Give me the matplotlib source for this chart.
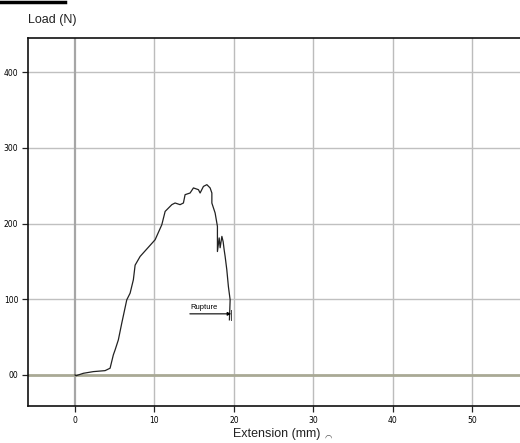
import matplotlib
matplotlib.use("Agg")
import matplotlib.pyplot as plt
from matplotlib.lines import Line2D

# Data
extension_mm = [0.0, 0.13, 1.05, 2.3, 3.78, 4.41, 4.82, 5.04, 5.45, 5.88, 6.51, 6.93, 7.34,
                7.56, 8.19, 10.08, 10.92, 11.34, 12.18, 12.59, 13.22, 13.64, 13.85, 14.48,
                14.9, 15.53, 15.74, 16.16, 16.59, 17.0, 17.22, 17.22, 17.63, 17.92, 17.92,
                18.14, 18.26, 18.48, 18.64, 18.77, 18.89, 19.1, 19.3, 19.52, 19.43]
load_N = [0.0, -1.0, 2.2, 4.4, 5.7, 8.9, 26.5, 33.0, 46.3, 68.4, 99.2, 108.0, 125.7,
          145.0, 156.5, 178.6, 198.4, 216.0, 224.9, 227.1, 224.9, 227.1, 238.1, 240.3,
          247.0, 244.7, 240.3, 249.0, 251.3, 247.0, 240.3, 227.0, 213.9, 196.2, 163.0,
          181.0, 168.0, 183.0, 176.0, 165.0, 156.5, 139.0, 116.8, 99.2, 72.8]

x_ticks = [0, 10, 20, 30, 40, 50]
x_tick_labels = ["0", "10", "20", "30", "40", "50"]
y_ticks = [0, 100, 200, 300, 400]
y_tick_labels = ["00", "100", "200", "300", "400"]

W, H = 520, 443
fig = plt.figure(figsize=(W / 100, H / 100), dpi=100)
fig.patch.set_facecolor("white")

ax = fig.add_axes([28 / W, 1 - 406 / H, 1 - 28 / W, (406 - 38) / H])
ax.set_facecolor("white")
ax.set_xlim(-5.92, 56.0)
ax.set_ylim(-41.0, 445.0)

# grid
for xv in x_ticks:
    if xv != 0:
        ax.axvline(xv, color="#bcbcbc", lw=1.0, zorder=1)
for yv in y_ticks:
    if yv != 0:
        ax.axhline(yv, color="#c0c0c0", lw=1.0, zorder=1)
ax.axvline(0, color="#a6a6a6", lw=1.6, zorder=1)
ax.axhline(0, color="#a9a995", lw=2.0, zorder=1)

ax.plot(extension_mm, load_N, color="#222222", lw=0.9, zorder=3)

# Rupture annotation
ax.annotate("", xy=(19.65, 80.7), xytext=(14.45, 80.7),
            arrowprops=dict(arrowstyle="-|>", color="black", lw=0.8,
                            mutation_scale=5, shrinkA=0, shrinkB=0), zorder=4)
ax.text(14.5, 84, "Rupture", fontsize=5.5, family="Liberation Sans",
        ha="left", va="bottom", color="black", zorder=4)
ax.plot([19.6, 19.6], [72, 86], color="#444444", lw=0.7, zorder=4)

for s in ["left", "bottom", "top"]:
    ax.spines[s].set_color("#111111")
    ax.spines[s].set_linewidth(1.2)
ax.spines["right"].set_visible(False)

ax.set_xticks(x_ticks)
ax.set_xticklabels(x_tick_labels, fontsize=5.5)
ax.set_yticks(y_ticks)
ax.set_yticklabels(y_tick_labels, fontsize=5.5)
ax.tick_params(axis="both", direction="out", length=4, width=0.9, color="#222222", pad=3)

fig.text(28 / W, 1 - 20 / H, "Load (N)", fontsize=9, family="Liberation Sans",
         ha="left", va="center", color="#222222")
fig.text(277 / W, 1 - 434 / H, "Extension (mm)", fontsize=9, family="Liberation Sans",
         ha="center", va="center", color="#222222")
fig.text(328 / W, 1 - 437 / H, "\u25e0", fontsize=6, family=["DejaVu Sans"],
         ha="center", va="center", color="#444444")

fig.add_artist(Line2D([0, 65 / W], [1 - 2 / H, 1 - 2 / H], color="black", lw=2.5))

fig.savefig("out.png", dpi=100)
